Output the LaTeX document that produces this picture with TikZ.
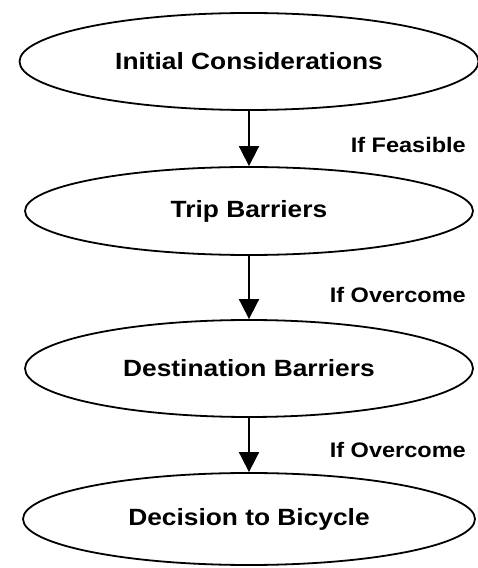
\documentclass[tikz,border=0pt]{standalone}
\usepackage{fontspec}
\newfontfamily\lab{Liberation Sans}[FakeStretch=1.12]
\usetikzlibrary{shapes.geometric,arrows.meta}
\begin{document}
\begin{tikzpicture}[x=1pt,y=1pt,
  oval/.style={ellipse,draw,line width=1.8pt,inner sep=0pt,font=\lab\bfseries\fontsize{23.5}{26}\selectfont},
  cond/.style={anchor=east,inner sep=0pt,font=\lab\bfseries\fontsize{21}{24}\selectfont},
  flow/.style={line width=1.8pt,-{Triangle[width=20pt,length=20pt]}}]
\useasboundingbox (0,0) rectangle (477,568);
\node[oval,minimum width=459pt,minimum height=97pt] (a) at (249,506.5) {Initial Considerations};
\node[oval,minimum width=448pt,minimum height=88pt] (b) at (249,357) {Trip Barriers};
\node[oval,minimum width=448pt,minimum height=97pt] (c) at (249,199.5) {Destination Barriers};
\node[oval,minimum width=452pt,minimum height=92pt] (d) at (249,49) {Decision to Bicycle};
\draw[flow] (a) -- (b);
\draw[flow] (b) -- (c);
\draw[flow] (c) -- (d);
\node[cond] (l1) at (466,423) {If Feasible};
\node[cond] (l2) at (466,273) {If Overcome};
\node[cond] (l3) at (466,118) {If Overcome};
\end{tikzpicture}
\end{document}
